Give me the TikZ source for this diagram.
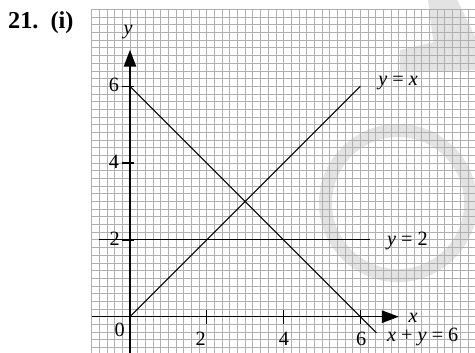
\documentclass[tikz,border=0pt]{standalone}
\usepackage{fontspec}
\setmainfont{Liberation Serif}
\usetikzlibrary{arrows.meta}
\tikzset{
  gridc/.style={gray!62, line width=0.6pt},
  wmark/.style={black!11},
  axisline/.style={black, line width=1.1pt},
  graphline/.style={black, line width=0.8pt},
  tickline/.style={black, line width=0.9pt},
  lbl/.style={font=\fontsize{15}{17}\selectfont, inner sep=0pt},
  arrowtip/.style={-{Triangle[length=0.44cm,width=0.32cm]}}
}
\begin{document}
\begin{tikzpicture}
\useasboundingbox (-3.385,-0.945) rectangle (8.984,8.247);
\clip (-3.385,-0.945) rectangle (8.984,8.247);
% watermark
\draw[wmark, line width=0.34cm] (6.98,2.96) circle (1.89);
\fill[wmark] (7.03,6.94) -- (7.9,7.15) -- (7.76,8.25) -- (8.52,8.25) -- (8.98,7.3) -- (8.98,6.42) -- (7.03,6.37) -- cycle;
% grid
\draw[gridc] (-1,-1) grid[step=0.2] (9.2,8);
% lines
\coordinate (O) at (0,0);
\coordinate (A) at (0,6);
\coordinate (B) at (6.42,-0.42);
\coordinate (C) at (6,6);
\coordinate (D1) at (-0.8,2);
\coordinate (D2) at (6.25,2);
\coordinate (XL) at (-1,0);
\coordinate (XR) at (7,0);
\coordinate (YB) at (0,-1);
\coordinate (YT) at (0,6.95);
\draw[graphline] (A) -- (B);
\draw[graphline] (O) -- (C);
\draw[graphline] (D1) -- (D2);
\draw[axisline, arrowtip] (XL) -- (XR);
\draw[axisline, arrowtip] (YB) -- (YT);
\foreach \v in {2,4,6} {
  \draw[tickline] (-0.2,\v) -- (0.1,\v);
  \draw[tickline] (\v,0.17) -- (\v,-0.19);
}
% labels
\node[lbl, anchor=base] (l6) at (-0.42,5.86) {6};
\node[lbl, anchor=base] (l4) at (-0.42,3.86) {4};
\node[lbl, anchor=base] (l2) at (-0.40,1.86) {2};
\node[lbl, anchor=base] (l0) at (-0.27,-0.52) {0};
\node[lbl, anchor=base] (x2) at (1.84,-0.755) {2};
\node[lbl, anchor=base] (x4) at (4.01,-0.755) {4};
\node[lbl, anchor=base] (x6) at (6.02,-0.755) {6};
\node[lbl, anchor=base west] (ylab) at (-0.17,7.34) {\textit{y}};
\node[lbl, anchor=base west] (xlab) at (7.25,-0.14) {\textit{x}};
\node[lbl, anchor=base west] (eq1) at (6.46,6.01) {\textit{y} = \textit{x}};
\node[lbl, anchor=base west] (eq2) at (6.69,1.85) {\textit{y} = 2};
\node[lbl, anchor=base west] (eq3) at (6.69,-0.65) {\textit{x} + \textit{y} = 6};
\node[font=\fontsize{18}{20}\selectfont\bfseries, inner sep=0pt, anchor=base west] (title) at (-3.18,7.51) {21.\enspace(i)};
\end{tikzpicture}
\end{document}
